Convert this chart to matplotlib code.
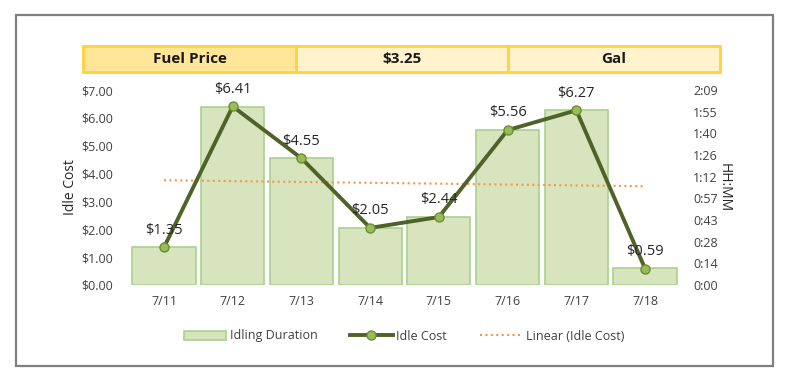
import matplotlib
matplotlib.use("Agg")
import matplotlib.pyplot as plt
from matplotlib.patches import Rectangle
from matplotlib.lines import Line2D
from matplotlib.patches import Patch
import numpy as np

plt.rcParams['font.family'] = ['Open Sans', 'DejaVu Sans']

dates = ["7/11", "7/12", "7/13", "7/14", "7/15", "7/16", "7/17", "7/18"]
idle_cost = [1.35, 6.41, 4.55, 2.05, 2.44, 5.56, 6.27, 0.59]
idle_minutes = [25, 118, 84, 38, 45, 102.5, 115.5, 11]
left_ticks = [0, 1, 2, 3, 4, 5, 6, 7]
right_tick_labels = ["0:00", "0:14", "0:28", "0:43", "0:57", "1:12", "1:26", "1:40", "1:55", "2:09"]
right_max_minutes = 129
header = ["Fuel Price", "$3.25", "Gal"]

W, H = 791, 392
fig = plt.figure(figsize=(W/100, H/100), dpi=100)

# outer border
fig.patches.append(Rectangle((16/W, 1-366/H), (773-16)/W, (366-15)/H, transform=fig.transFigure,
                             fill=False, edgecolor='#7f7f7f', linewidth=1.6))

# header band
hx = [83, 296, 508, 720]
hfill = ['#ffe699', '#fff2cc', '#fff2cc']
for i, txt in enumerate(header):
    x0 = hx[i]/W
    w = (hx[i+1]-hx[i])/W
    fig.patches.append(Rectangle((x0, 1-72/H), w, 26/H, transform=fig.transFigure,
                                 facecolor=hfill[i], edgecolor='#ffd23f', linewidth=2))
    fig.text(x0 + w/2, 1-59/H, txt, ha='center', va='center', fontsize=11,
             fontweight='bold', color='#1a1a1a')

x = np.arange(len(dates))
ax = fig.add_axes([129.6/W, 1-285/H, (679.4-129.6)/W, (285-90)/H])
ax2 = ax.twinx()

# bars on the duration axis (drawn first, behind)
ax.set_zorder(2)
ax.patch.set_visible(False)
ax2.bar(x, idle_minutes, width=0.92, color='#d7e4bd', edgecolor='#a9d18e', linewidth=1.2, zorder=1)
ax2.set_ylim(0, right_max_minutes)
ax2.set_yticks(np.linspace(0, right_max_minutes, len(right_tick_labels)))
ax2.set_yticklabels(right_tick_labels)
ax2.set_ylabel("HH:MM", rotation=-90, labelpad=10, fontsize=10, color='#262626')

# cost line
ax.plot(x, idle_cost, color='#4f6228', linewidth=2.8, marker='o', markersize=6.5,
        markerfacecolor='#9bbb59', markeredgecolor='#6a8f2f', markeredgewidth=1, zorder=3)
for xi, c in zip(x, idle_cost):
    ax.annotate(f"${c:.2f}", (xi, c), xytext=(0, 7), textcoords='offset points',
                ha='center', va='bottom', fontsize=10.5, color='#262626', zorder=4)

# linear trend
coef = np.polyfit(x, idle_cost, 1)
ax.plot(x[[0, -1]], np.polyval(coef, x[[0, -1]]), color='#f79646', linewidth=1.5,
        linestyle=(0, (1, 1.6)), zorder=2.5)

ax.set_xlim(-0.5, len(dates)-0.5)
ax.set_ylim(0, 7)
ax.set_yticks(left_ticks)
ax.set_yticklabels([f"${v:.2f}" for v in left_ticks])
ax.set_xticks(x)
ax.set_xticklabels(dates)
ax.set_ylabel("Idle Cost", fontsize=10, color='#262626', labelpad=2)

for a in (ax, ax2):
    for s in a.spines.values():
        s.set_visible(False)
    a.tick_params(length=0, labelsize=9, colors='#404040')
ax.tick_params(axis='y', pad=12)
ax.tick_params(axis='x', pad=7)
ax2.tick_params(axis='y', pad=10)

handles = [Patch(facecolor='#d7e4bd', edgecolor='#a9d18e', linewidth=1.2),
           Line2D([0], [0], color='#4f6228', linewidth=2.8, marker='o', markersize=6.5,
                  markerfacecolor='#9bbb59', markeredgecolor='#6a8f2f'),
           Line2D([0], [0], color='#f79646', linewidth=1.5, linestyle=(0, (1, 1.6)))]
fig.legend(handles, ["Idling Duration", "Idle Cost", "Linear (Idle Cost)"],
           loc='center', bbox_to_anchor=(404/W, 1-336/H), ncol=3, frameon=False,
           fontsize=9, handlelength=3.4, handletextpad=0.3, columnspacing=2.6,
           labelcolor='#404040')

fig.savefig("out.png", dpi=100)
